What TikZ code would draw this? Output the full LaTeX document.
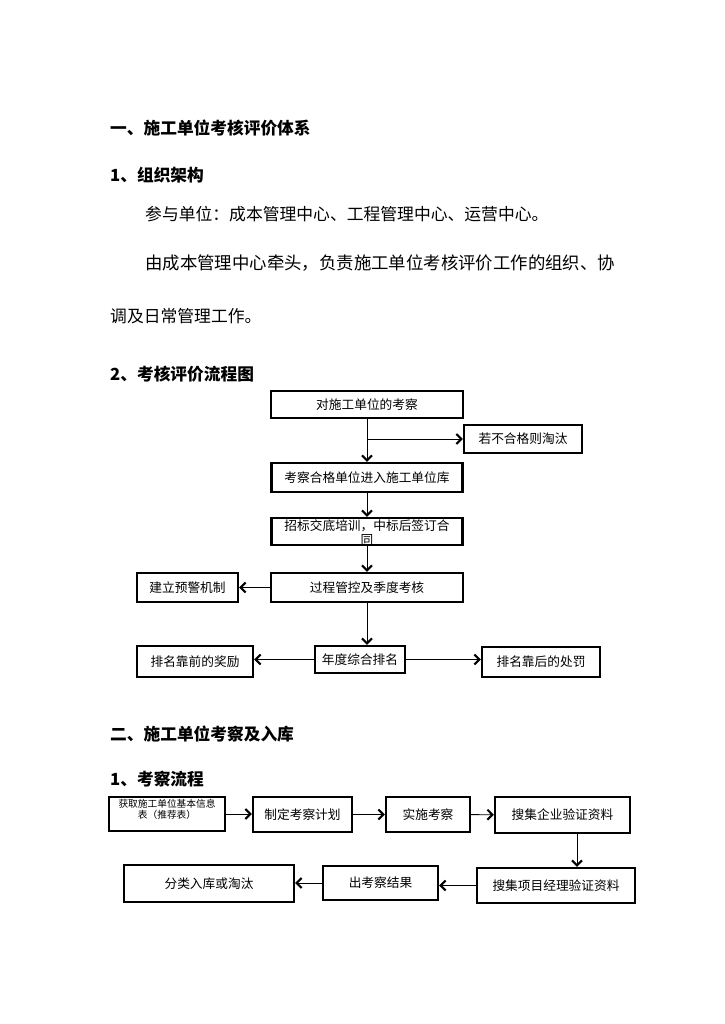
\documentclass[tikz,border=0pt]{standalone}
\usepackage{fontspec}
\setmainfont{Noto Sans CJK SC}
\usetikzlibrary{positioning,arrows.meta,calc}

\begin{document}
\begin{tikzpicture}[x=1pt, y=-1pt,
  every node/.style={font=\fontsize{12.7}{14}\selectfont, inner sep=0pt},
  head/.style={anchor=west, font=\fontsize{16.7}{20}\selectfont\bfseries},
  para/.style={anchor=west, font=\fontsize{16.8}{20}\selectfont},
  box/.style={draw, line width=2.4pt, align=center},
  arr/.style={-{Straight Barb[length=5pt,width=10pt,line width=2pt]}, line width=0.9pt}
]
  \useasboundingbox (0,0) rectangle (724,1024);

  % section one
  \node[head] (secone) at (110,128) {一、施工单位考核评价体系};
  \node[head] (org) at (110,175) {1、组织架构};
  \node[para] (members) at (145,214) {参与单位：成本管理中心、工程管理中心、运营中心。};
  \node[para, font=\fontsize{17.4}{20}\selectfont] (leadone) at (145,263) {由成本管理中心牵头，负责施工单位考核评价工作的组织、协};
  \node[para] (leadtwo) at (110,316) {调及日常管理工作。};
  \node[head] (flow) at (110,374) {2、考核评价流程图};

  \node[box, minimum width=192, minimum height=27] (survey) at (367,404.5) {对施工单位的考察};
  \node[box, minimum width=118, minimum height=28] (reject) at (523,439) {若不合格则淘汰};
  \node[box, minimum width=191, minimum height=29] (pool) at (367,477.5) {考察合格单位进入施工单位库};
  \node[box, minimum width=191, minimum height=27] (bid) at (367,531.5) {};
  \node[align=center] (bidtext) at (367,533) {招标交底培训，中标后签订合\\同};
  \node[box, minimum width=192, minimum height=29] (control) at (367,587.5) {过程管控及季度考核};
  \node[box, minimum width=101, minimum height=29] (warn) at (187.5,587.5) {建立预警机制};
  \node[box, minimum width=90, minimum height=27] (rank) at (360,659.5) {年度综合排名};
  \node[box, minimum width=116, minimum height=31] (reward) at (195,661.5) {排名靠前的奖励};
  \node[box, minimum width=118, minimum height=30] (penalty) at (541,662) {排名靠后的处罚};

  \draw[arr] (survey) -- (pool);
  \draw[arr] (survey.south |- reject.west) -- (reject.west);
  \draw[arr] (pool) -- (bid);
  \draw[arr] (bid) -- (control);
  \draw[arr] (control) -- (warn);
  \draw[arr] (control.south) -- (control.south |- rank.north);
  \draw[arr] (rank.west) -- (rank.west -| reward.east);
  \draw[arr] (rank.east) -- (rank.east -| penalty.west);

  % section two
  \node[head] (sectwo) at (110,734) {二、施工单位考察及入库};
  \node[head] (steps) at (110,779) {1、考察流程};

  \node[box, minimum width=116, minimum height=34] (info) at (167,814) {};
  \node[align=center, font=\fontsize{9.7}{11}\selectfont] (infotext) at (167,809) {获取施工单位基本信息\\表（推荐表）};
  \node[box, minimum width=99, minimum height=35] (plan) at (302.5,814.5) {制定考察计划};
  \node[box, minimum width=84, minimum height=35] (visit) at (428,814.5) {实施考察};
  \node[box, minimum width=135, minimum height=36] (firm) at (562.5,815) {搜集企业验证资料};
  \node[box, minimum width=158, minimum height=35] (manager) at (556,885.5) {搜集项目经理验证资料};
  \node[box, minimum width=115, minimum height=34] (result) at (380.5,883) {出考察结果};
  \node[box, minimum width=170, minimum height=37] (sort) at (209,883.5) {分类入库或淘汰};

  \draw[arr] (info.east) -- (info.east -| plan.west);
  \draw[arr] (plan) -- (visit);
  \draw[arr] (visit) -- (firm);
  \draw[arr] ([xshift=14.5]firm.south) -- ([xshift=14.5]firm.south |- manager.north);
  \draw[arr] (manager.west) -- (manager.west -| result.east);
  \draw[arr] (result.west) -- (result.west -| sort.east);
\end{tikzpicture}
\end{document}
